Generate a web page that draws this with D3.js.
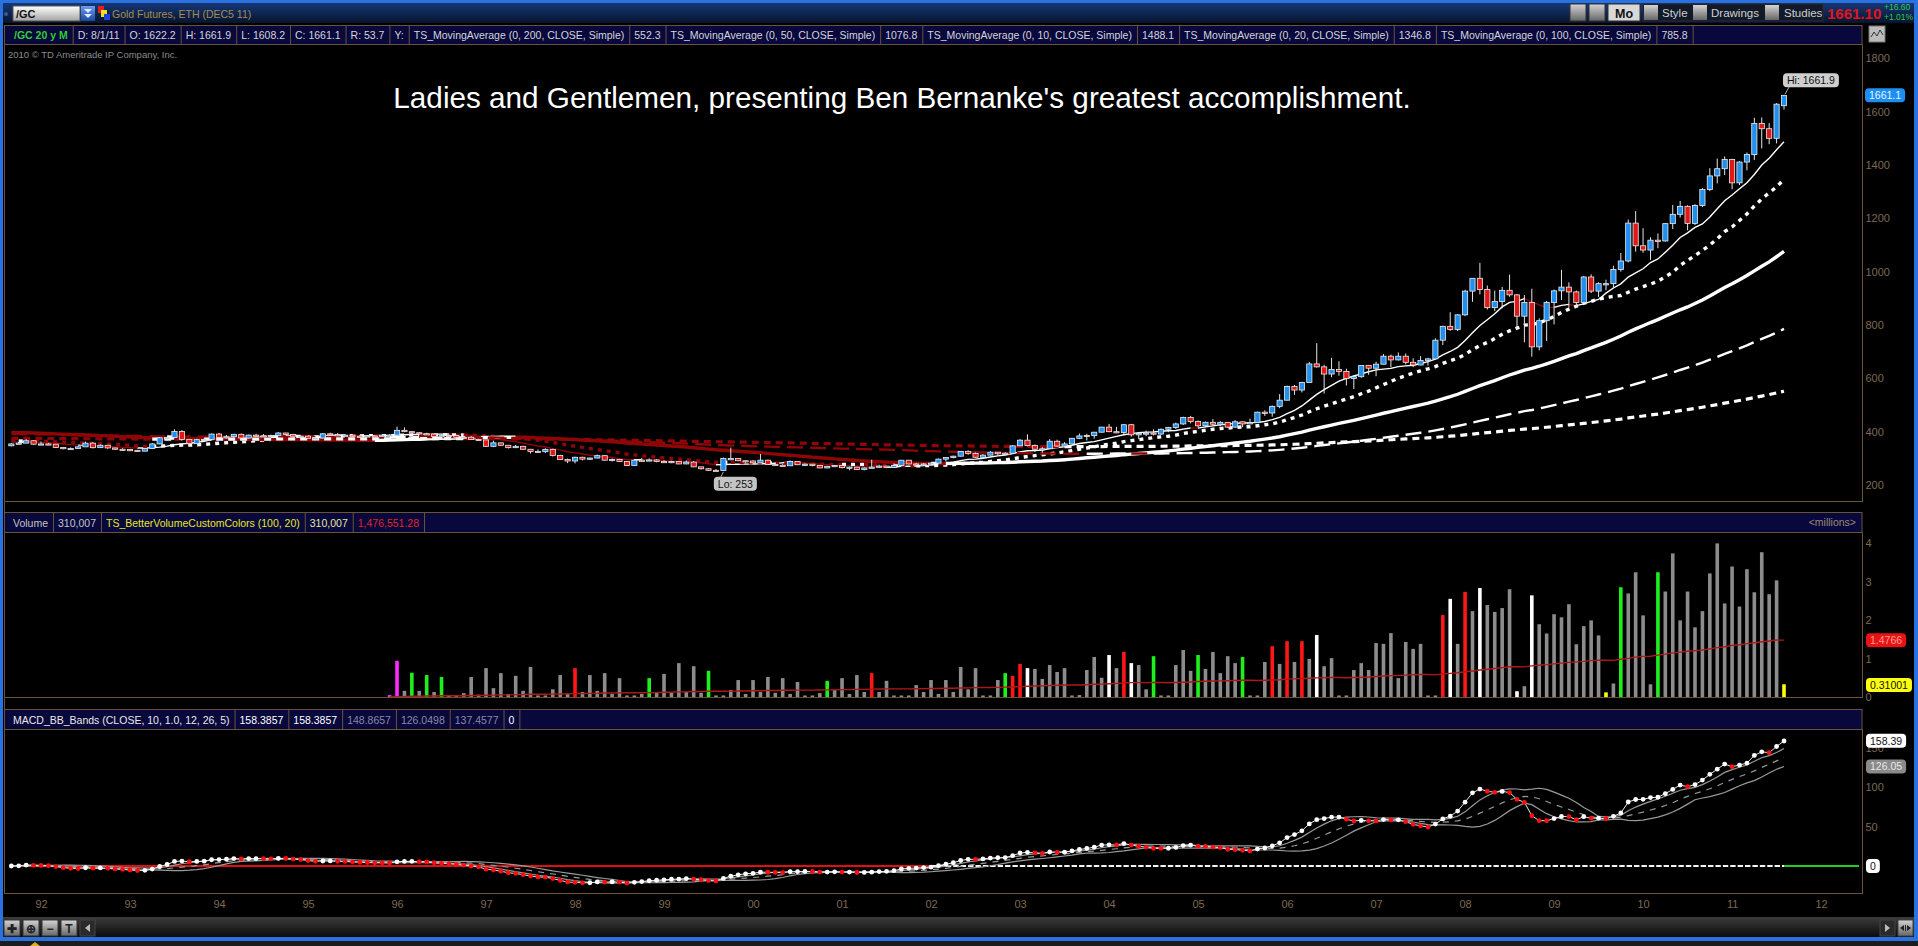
<!DOCTYPE html>
<html lang="en">
<head>
<meta charset="UTF-8">
<title>/GC 20 y M</title>
<script src="https://cdn.jsdelivr.net/npm/d3@7/dist/d3.min.js"></script>
<style>
  body { margin:0; padding:0; background:#000; overflow:hidden; }
  svg text { font-family: "Liberation Sans", Arial, sans-serif; }
</style>
</head>
<body>
<svg id="chart" width="1918" height="946"></svg>
<script>
// monthly gold bars, Sep 1991 .. Aug 2011 (index 4 = Jan 1992)
var opens = [347,354,357,366,
  353,354,353,341,336,337,343,357,340,349,339,334,
  333,330,327,337,354,377,378,401,371,355,370,371,
  391,378,381,390,376,387,385,384,386,395,389,383,
  383,375,376,392,389,385,387,383,382,384,383,387,
  387,405,400,396,392,391,382,385,386,379,379,371,
  369,345,358,349,340,345,334,326,325,333,311,296,
  290,304,297,301,310,293,296,288,273,293,292,294,
  288,287,288,279,286,268,261,255,254,299,299,291,
  290,283,293,277,274,272,288,276,278,273,264,270,
  273,265,267,258,264,267,271,266,273,293,279,275,
  279,282,297,303,308,326,318,304,312,323,317,319,
  347,368,348,334,336,364,346,354,375,384,386,398,
  417,400,397,426,388,393,395,391,409,416,429,453,
  438,422,435,428,435,417,437,429,434,473,470,495,
  518,569,556,584,654,643,616,633,626,599,606,648,
  638,653,683,669,683,660,650,667,673,743,795,783,
  838,927,975,933,865,888,930,913,833,884,718,816,
  884,928,942,924,884,980,927,955,955,1008,1040,1182,
  1097,1081,1118,1115,1180,1215,1245,1181,1248,1308,1359,1386,
  1421,1333,1411,1439,1556,1536,1500,1622.2];
var highs = [357,362,372,368,
  363,358,354,342,341,346,363,361,352,350,340,338,
  335,332,339,357,380,380,409,406,373,373,375,393,
  395,388,392,393,389,392,391,389,398,396,392,386,
  383,381,395,396,395,391,391,388,387,387,390,390,
  419,416,402,398,396,392,388,390,387,384,383,373,
  369,366,359,349,350,347,335,333,338,336,313,299,
  306,306,303,314,311,300,298,289,298,302,300,297,
  293,291,290,292,290,268,262,260,303,340,300,292,
  293,316,295,285,278,292,290,281,278,274,272,275,
  273,269,268,266,295,276,272,281,294,294,283,282,
  283,299,304,310,327,330,322,316,327,323,323,349,
  372,390,352,342,372,370,361,377,393,392,399,418,
  429,418,428,429,397,404,409,412,418,434,456,459,
  442,438,447,439,436,443,438,449,475,480,498,541,
  573,575,587,661,732,651,677,664,636,611,650,649,
  662,691,689,697,693,675,683,677,750,797,848,841,
  932,975,1033,948,929,943,989,916,912,936,825,890,
  933,1007,960,929,984,990,960,970,1022,1070,1195,1227,
  1163,1129,1143,1182,1250,1265,1249,1253,1313,1388,1424,1432,
  1423,1414,1447,1577,1578,1557,1632,1661.9];
var lows = [345,354,356,351,
  350,350,339,334,333,336,343,337,339,336,332,331,
  327,326,326,335,353,365,377,366,345,354,362,367,
  375,374,377,368,374,381,379,377,386,387,381,377,
  372,371,375,387,383,383,381,380,381,380,381,384,
  386,398,393,390,388,380,380,384,377,376,369,366,
  343,342,347,337,338,333,318,320,320,307,295,282,
  281,292,294,300,292,288,287,271,272,290,291,285,
  283,282,278,278,267,258,254,254,253,296,289,281,
  281,282,276,273,271,272,275,271,270,264,263,268,
  262,255,256,255,264,264,263,265,271,277,271,274,
  277,281,288,300,307,313,302,302,311,311,315,318,
  346,345,323,321,336,343,342,352,372,367,374,397,
  398,394,389,381,372,383,386,388,398,410,425,431,
  415,416,424,422,414,415,417,428,433,459,456,488,
  517,538,547,584,640,543,604,610,573,560,602,613,
  608,652,641,667,652,642,649,648,672,725,778,777,
  833,887,915,858,852,862,906,786,735,681,705,740,
  802,893,866,865,881,920,905,930,940,1000,1035,1075,
  1071,1044,1088,1113,1160,1203,1155,1175,1242,1302,1331,1362,
  1309,1325,1380,1419,1462,1478,1481,1608.2];
var closes = [354,357,366,353,
  354,353,341,336,337,343,357,340,349,339,334,333,
  330,327,337,354,377,378,401,371,355,370,371,391,
  378,381,390,376,387,385,384,386,395,389,383,383,
  375,376,392,389,385,387,383,382,384,383,387,387,
  405,400,396,392,391,382,385,386,379,379,371,369,
  345,358,349,340,345,334,326,325,333,311,296,290,
  304,297,301,310,293,296,288,273,293,292,294,288,
  287,288,279,286,268,261,255,254,299,299,291,290,
  283,293,277,274,272,288,276,278,273,264,270,273,
  265,267,258,264,267,271,266,273,293,279,275,279,
  282,297,303,308,326,318,304,312,323,317,319,347,
  368,348,334,336,364,346,354,375,384,386,398,417,
  400,397,426,388,393,395,391,409,416,429,453,438,
  422,435,428,435,417,437,429,434,473,470,495,518,
  569,556,584,654,643,616,633,626,599,606,648,638,
  653,683,669,683,660,650,667,673,743,795,783,838,
  927,975,933,865,888,930,913,833,884,718,816,884,
  928,942,924,884,980,927,955,955,1008,1040,1182,1097,
  1081,1118,1115,1180,1215,1245,1181,1248,1308,1359,1386,1421,
  1333,1411,1439,1556,1536,1500,1628,1661.1];

var yearLabels = ['92','93','94','95','96','97','98','99','00','01','02',
                  '03','04','05','06','07','08','09','10','11','12'];
var priceTicks = [200,400,600,800,1000,1200,1400,1600,1800];
var volTicks = [0,1,2,3,4];
var macdTicks = [50,100,150];

// volume in millions, first bar = Dec 1995 (bar index 51)
var volStart = 51;
var volumes = [0.05,
  0.94,0.16,0.63,0.16,0.57,0.13,0.52,0.04,0.04,0.10,
  0.52,0.06,0.75,0.23,0.62,0.08,0.55,0.16,0.78,0.04,
  0.04,0.20,0.57,0.08,0.75,0.13,0.57,0.16,0.62,0.08,
  0.49,0.04,0.04,0.08,0.49,0.13,0.60,0.11,0.88,0.13,
  0.80,0.11,0.68,0.04,0.04,0.18,0.44,0.08,0.44,0.13,
  0.52,0.11,0.49,0.08,0.39,0.04,0.04,0.10,0.42,0.18,
  0.49,0.08,0.57,0.13,0.62,0.13,0.42,0.04,0.04,0.04,
  0.31,0.13,0.44,0.08,0.44,0.13,0.78,0.20,0.75,0.04,
  0.04,0.44,0.62,0.55,0.86,0.75,0.73,0.47,0.83,0.65,
  0.75,0.04,0.05,0.70,1.04,0.50,1.09,0.75,1.17,0.88,
  0.83,0.20,1.06,0.04,0.04,0.83,1.22,0.68,1.09,0.73,
  1.17,0.62,1.06,0.88,1.04,0.04,0.04,0.91,1.32,0.86,
  1.45,0.91,1.45,0.99,1.61,0.80,1.01,0.04,0.04,0.70,
  0.88,0.70,1.40,1.38,1.66,0.49,1.43,1.25,1.38,0.04,
  0.04,2.13,2.55,1.38,2.73,2.23,2.83,2.39,2.21,2.31,
  2.80,0.15,0.28,2.64,1.89,1.65,2.15,2.07,2.41,1.37,
  1.84,1.99,1.60,0.12,0.35,2.85,2.69,3.24,2.12,0.33,
  3.24,2.74,3.73,1.99,2.74,1.81,2.23,3.21,3.99,2.43,
  3.39,2.35,3.32,2.72,3.76,2.67,3.03,0.33];
// g gray, G green, r red, w white, m magenta, y yellow
var volKinds = ('m' + 'mgGgGgGggg' + 'gggggggggg' + 'ggggrggggg' + 'ggggGggggg' +
  'ggGggggggg' + 'ggggggggGg' + 'ggggrggggg' + 'gggggggggg' + 'ggGrrwgggg' +
  'ggggggwgrw' + 'ggGgggggGg' + 'ggggGgggrg' + 'rgrgwggggg' + 'gggggggggg' +
  'grwgrgwggg' + 'gwgwgggggg' + 'gggygGgggg' + 'Gggggggggg' + 'gggggggy').split('');

var maPeriods = [10, 20, 50, 100, 200];
var maPrior = [362, 366, 398, 392, 375];   // average of the months before the chart window
var volAvgLen = 100;
var zeroRedEnd = 124;

var lastPrice = 1661.1, volAvgLast = 1.4766, volLast = 0.31001,
    macdLast = 158.39, macdLowLast = 126.05;

var priceCells = [['/GC 20 y M','#33cc33',1],['D: 8/1/11'],['O: 1622.2'],['H: 1661.9'],['L: 1608.2'],
  ['C: 1661.1'],['R: 53.7'],['Y:'],['TS_MovingAverage (0, 200, CLOSE, Simple)'],['552.3'],
  ['TS_MovingAverage (0, 50, CLOSE, Simple)'],['1076.8'],['TS_MovingAverage (0, 10, CLOSE, Simple)'],['1488.1'],
  ['TS_MovingAverage (0, 20, CLOSE, Simple)'],['1346.8'],['TS_MovingAverage (0, 100, CLOSE, Simple)'],['785.8']];
var volCells = [['Volume','#c4c4c4'],['310,007','#c4c4c4'],['TS_BetterVolumeCustomColors (100, 20)','#e6e626'],
  ['310,007','#e6e6a0'],['1,476,551.28','#e02424']];
var macdCells = [['MACD_BB_Bands (CLOSE, 10, 1.0, 12, 26, 5)','#e8e8e8'],['158.3857','#ffffff'],['158.3857','#ffffff'],
  ['148.8657','#8a8aa4'],['126.0498','#8a8aa4'],['137.4577','#8a8aa4'],['0','#ffffff']];

var svg = d3.select('#chart');
var defs = svg.append('defs');
function grad(id, c1, c2) {
  var g = defs.append('linearGradient').attr('id', id).attr('x1',0).attr('y1',0).attr('x2',0).attr('y2',1);
  g.append('stop').attr('offset','0').attr('stop-color',c1);
  g.append('stop').attr('offset','1').attr('stop-color',c2);
}
grad('tb','#183d82','#07142e');
grad('box','#ffffff','#a4a4a4');
grad('dd','#6c9cea','#1a46a0');
grad('btn','#d4d4d4','#666666');
grad('sb','#3c3c3c','#0a0a0a');
function clip(id,x,y,w,h){ defs.append('clipPath').attr('id',id).append('rect').attr('x',x).attr('y',y).attr('width',w).attr('height',h); }
clip('cP',5,44,1857,457);
clip('cV',5,532,1857,165);
clip('cM',5,729,1857,164);

var x = d3.scaleLinear().domain([4, 239]).range([41, 1784]);
var yP = d3.scaleLinear().domain([200, 1800]).range([485, 58.3]);
var yV = d3.scaleLinear().domain([0, 4]).range([697, 543]);
var yM = d3.scaleLinear().domain([0, 100]).range([866, 787]);

var FRAME = '#6a5438', AXIS = '#7d6a52';

svg.append('rect').attr('width',1918).attr('height',946).attr('fill','#000');

// ---- top toolbar
svg.append('rect').attr('width',1918).attr('height',23).attr('fill','url(#tb)');
svg.append('rect').attr('width',1918).attr('height',3).attr('fill','#2a72e0');
svg.append('circle').attr('cx',6).attr('cy',14).attr('r',2).attr('fill','#3a5a90');
svg.append('rect').attr('x',13).attr('y',6).attr('width',67).attr('height',15).attr('fill','url(#box)').attr('stroke','#555');
svg.append('text').attr('x',16).attr('y',17.5).attr('font-size',11).attr('font-weight','bold').attr('fill','#111').text('/GC');
svg.append('rect').attr('x',81).attr('y',6).attr('width',14).attr('height',15).attr('fill','url(#dd)');
svg.append('path').attr('d','M84,9h8l-4,4z M84,14h8l-4,4z').attr('fill','#dfe8ff');
svg.append('rect').attr('x',98).attr('y',6).attr('width',6).attr('height',7).attr('fill','#e02020');
svg.append('rect').attr('x',101).attr('y',10).attr('width',6).attr('height',7).attr('fill','#f0e020');
svg.append('rect').attr('x',104).attr('y',14).attr('width',6).attr('height',6).attr('fill','#2040e0');
svg.append('text').attr('x',112).attr('y',18).attr('font-size',10.5).attr('fill','#a48c50').text('Gold Futures, ETH (DEC5 11)');

[1570,1589].forEach(function(bx){
  svg.append('rect').attr('x',bx).attr('y',4).attr('width',16).attr('height',17).attr('fill','url(#btn)').attr('stroke','#333');
});
svg.append('rect').attr('x',1608).attr('y',4).attr('width',32).attr('height',17).attr('fill','#d8d8d8').attr('stroke','#333');
svg.append('text').attr('x',1624).attr('y',17.5).attr('text-anchor','middle').attr('font-size',12.5).attr('font-weight','bold').attr('fill','#111').text('Mo');
svg.append('rect').attr('x',1643).attr('y',4).attr('width',180).attr('height',17).attr('fill','#121a2a').attr('stroke','#2a2a3a');
[[1644,1662,'Style'],[1693,1711,'Drawings'],[1765,1784,'Studies']].forEach(function(b){
  svg.append('rect').attr('x',b[0]).attr('y',5).attr('width',14).attr('height',15).attr('fill','url(#btn)');
  svg.append('text').attr('x',b[1]).attr('y',17).attr('font-size',11.5).attr('fill','#cfcfcf').text(b[2]);
});
svg.append('text').attr('x',1827).attr('y',18.5).attr('font-size',15).attr('font-weight','bold').attr('fill','#e0141c').text('1661.10');
svg.append('text').attr('x',1884).attr('y',10).attr('font-size',8.5).attr('fill','#2ecc40').text('+16.60');
svg.append('text').attr('x',1884).attr('y',19.5).attr('font-size',8.5).attr('fill','#2ecc40').text('+1.01%');

// ---- header strips
function strip(y0, h, cells, startX) {
  var g = svg.append('g');
  g.append('rect').attr('x',4.5).attr('y',y0+0.5).attr('width',1857.5).attr('height',h).attr('fill','#08083c').attr('stroke',FRAME);
  var cx = startX;
  cells.forEach(function(c){
    var t = g.append('text').attr('x',cx+5).attr('y',y0+h/2+4.5).attr('font-size',10.5)
      .attr('fill',c[1] || '#d4d4d4').text(c[0]);
    if (c[2]) t.attr('font-weight','bold');
    cx += t.node().getComputedTextLength() + 10;
    g.append('line').attr('x1',cx+0.5).attr('x2',cx+0.5).attr('y1',y0+0.5).attr('y2',y0+h+0.5).attr('stroke',FRAME);
  });
  return g;
}
strip(25, 19, priceCells, 9);
strip(512, 20, volCells, 8)
  .append('text').attr('x',1856).attr('y',526).attr('text-anchor','end').attr('font-size',10.5).attr('fill','#9a8a78').text('<millions>');
strip(709, 20, macdCells, 8);
svg.append('rect').attr('x',1869).attr('y',26).attr('width',16).attr('height',16).attr('fill','#bcbcbc').attr('stroke','#777');
svg.append('polyline').attr('points','1871,37 1874,32 1877,36 1880,30 1883,35').attr('fill','none').attr('stroke','#333');

// ---- frames
[[44,501],[532,697],[729,893]].forEach(function(p){
  svg.append('line').attr('x1',1862.5).attr('x2',1862.5).attr('y1',p[0]).attr('y2',p[1]).attr('stroke',FRAME);
  svg.append('line').attr('x1',4).attr('x2',1863).attr('y1',p[1]+0.5).attr('y2',p[1]+0.5).attr('stroke',FRAME);
});
svg.append('line').attr('x1',4.5).attr('x2',4.5).attr('y1',25).attr('y2',894).attr('stroke',FRAME);

svg.append('text').attr('x',8).attr('y',57.5).attr('font-size',9.5).attr('fill','#8c8c8c').text('2010 \u00a9 TD Ameritrade IP Company, Inc.');

// title
var title = svg.append('text').attr('x',902).attr('y',108).attr('text-anchor','middle').attr('font-size',28).attr('fill','#fff')
  .text("Ladies and Gentlemen, presenting Ben Bernanke's greatest accomplishment.");
title.attr('font-size', 28 * 1018 / title.node().getComputedTextLength());

// ---- price pane
var pane = svg.append('g').attr('clip-path','url(#cP)');
var line = d3.line().x(function(d){ return x(d[0]); }).y(function(d){ return yP(d[1]); });
var maStyle = [{w:1.4,dash:null},{w:3.4,dash:'4,5'},{w:3.4,dash:null},{w:2.4,dash:'16,7'},{w:3.2,dash:'7,5'}];
maPeriods.forEach(function(n, m){
  var ma = closes.map(function(c, i){
    var s = 0;
    for (var k = i - n + 1; k <= i; k++) s += k >= 0 ? closes[k] : maPrior[m];
    return s / n;
  });
  var runs = [], cur = null;
  for (var i = 1; i < ma.length; i++) {
    var col = ma[i] >= ma[i-1] ? '#ffffff' : '#8e0606';
    if (!cur || cur.col !== col) { cur = {col: col, pts: [[i-1, ma[i-1]]]}; runs.push(cur); }
    cur.pts.push([i, ma[i]]);
  }
  runs.forEach(function(r){
    pane.append('path').attr('d', line(r.pts)).attr('fill','none').attr('stroke', r.col)
      .attr('stroke-width', maStyle[m].w).attr('stroke-dasharray', maStyle[m].dash);
  });
});

var bars = d3.range(closes.length);
var cg = pane.selectAll('g.c').data(bars).enter().append('g');
cg.append('line')
  .attr('x1', function(i){ return x(i); }).attr('x2', function(i){ return x(i); })
  .attr('y1', function(i){ return yP(highs[i]); }).attr('y2', function(i){ return yP(lows[i]); })
  .attr('stroke','#e4e4e4').attr('stroke-width',1);
cg.append('rect')
  .attr('x', function(i){ return x(i) - 2.6; }).attr('width', 5.2)
  .attr('y', function(i){ return yP(Math.max(opens[i], closes[i])); })
  .attr('height', function(i){ return Math.max(1.2, Math.abs(yP(opens[i]) - yP(closes[i]))); })
  .attr('fill', function(i){ return closes[i] >= opens[i] ? '#1f8ff0' : '#e01818'; })
  .attr('stroke','#ececec').attr('stroke-width',0.8);

function bubble(bx, yc, txt, bg, fg, anchorStart) {
  var g = svg.append('g');
  var r = g.append('rect').attr('y', yc - 7).attr('height', 14).attr('rx', 4).attr('fill', bg);
  var t = g.append('text').attr('y', yc + 4).attr('font-size', 10.5).attr('fill', fg).text(txt);
  var w = t.node().getComputedTextLength() + 8;
  var left = anchorStart ? bx : bx - w / 2;
  r.attr('x', left).attr('width', w);
  t.attr('x', left + 4);
  return g;
}
var hiIdx = d3.maxIndex(highs), loIdx = d3.minIndex(lows);
svg.append('line').attr('x1', x(hiIdx) + 1).attr('y1', yP(highs[hiIdx]) - 1).attr('x2', x(hiIdx) + 5).attr('y2', yP(highs[hiIdx]) - 8).attr('stroke','#aaa');
bubble(x(hiIdx) - 1, yP(highs[hiIdx]) - 15, 'Hi: ' + highs[hiIdx], '#cfcfcf', '#111', true);
svg.append('line').attr('x1', x(loIdx)).attr('y1', yP(lows[loIdx]) + 1).attr('x2', x(loIdx) - 3).attr('y2', yP(lows[loIdx]) + 7).attr('stroke','#aaa');
bubble(x(loIdx) + 12, yP(lows[loIdx]) + 13, 'Lo: ' + lows[loIdx], '#c4c4c4', '#111', false);

// ---- axes
function rightAxis(scale, ticks) {
  var g = svg.append('g').attr('transform','translate(1862,0)')
    .call(d3.axisRight(scale).tickValues(ticks).tickSize(0).tickPadding(3.5).tickFormat(d3.format('d')));
  g.select('.domain').remove();
  g.attr('font-size', 11).attr('font-family','"Liberation Sans", Arial, sans-serif');
  g.selectAll('text').attr('fill', AXIS);
  return g;
}
rightAxis(yP, priceTicks);
rightAxis(yV, volTicks);
rightAxis(yM, macdTicks);
var xa = svg.append('g').attr('transform','translate(0,893)')
  .call(d3.axisBottom(x).tickValues(yearLabels.map(function(_, k){ return 4 + 12 * k; }))
    .tickFormat(function(d, k){ return yearLabels[k]; }).tickSize(0).tickPadding(7));
xa.select('.domain').remove();
xa.attr('font-size', 11).attr('font-family','"Liberation Sans", Arial, sans-serif');
xa.selectAll('text').attr('fill', AXIS);

bubble(1865, yP(lastPrice), String(lastPrice), '#1e8ff2', '#e8f4ff', true);

// ---- volume pane
var vp = svg.append('g').attr('clip-path','url(#cV)');
var volColor = {g:'#8c8c8c', G:'#1ef01e', r:'#ff1616', w:'#ffffff', m:'#ff2aff', y:'#ffff10'};
vp.selectAll('rect.v').data(volumes).enter().append('rect')
  .attr('x', function(d, j){ return x(volStart + j) - 1.8; }).attr('width', 3.6)
  .attr('y', function(d){ return yV(d); })
  .attr('height', function(d){ return yV(0) - yV(d); })
  .attr('fill', function(d, j){ return volColor[volKinds[j]]; });
var volAvg = volumes.map(function(d, j){
  var s = 0;
  for (var k = j - volAvgLen + 1; k <= j; k++) if (k >= 0) s += volumes[k];
  return [volStart + j, s / volAvgLen];
});
vp.append('path').attr('d', d3.line().x(function(d){ return x(d[0]); }).y(function(d){ return yV(d[1]); })(volAvg))
  .attr('fill','none').attr('stroke','#b01818').attr('stroke-width',1.4);
bubble(1866, yV(volAvgLast), String(volAvgLast), '#e81414', '#ff9a9a', true);
bubble(1866, yV(volLast), String(volLast), '#ffff10', '#111', true);

// ---- MACD pane
function ema(arr, n) {
  var k = 2 / (n + 1), out = [], e = arr[0];
  arr.forEach(function(v, i){ e = i ? v * k + e * (1 - k) : v; out.push(e); });
  return out;
}
var e12 = ema(closes, 12), e26 = ema(closes, 26);
var macd = closes.map(function(_, i){ return e12[i] - e26[i]; });
var bbLen = 10, mid = [], up = [], lo = [];
macd.forEach(function(v, i){
  var w = macd.slice(Math.max(0, i - bbLen + 1), i + 1);
  var m = d3.mean(w), sd = Math.sqrt(d3.mean(w, function(d){ return (d - m) * (d - m); }));
  mid.push(m); up.push(m + sd); lo.push(m - sd);
});
var mp = svg.append('g').attr('clip-path','url(#cM)');
var ml = d3.line().x(function(d, i){ return x(i); }).y(function(d){ return yM(d); });
mp.append('line').attr('x1', x(0)).attr('x2', x(zeroRedEnd)).attr('y1', yM(0)).attr('y2', yM(0)).attr('stroke','#e01010').attr('stroke-width',2.2);
mp.append('line').attr('x1', x(zeroRedEnd)).attr('x2', x(closes.length - 1)).attr('y1', yM(0)).attr('y2', yM(0))
  .attr('stroke','#f4f4f4').attr('stroke-width',2.2).attr('stroke-dasharray','5.4,2');
mp.append('line').attr('x1', x(closes.length - 1)).attr('x2', 1859).attr('y1', yM(0)).attr('y2', yM(0)).attr('stroke','#1ed01e').attr('stroke-width',2.2);
[up, lo].forEach(function(b){
  mp.append('path').attr('d', ml(b)).attr('fill','none').attr('stroke','#9a9a9a').attr('stroke-width',1.2);
});
mp.append('path').attr('d', ml(mid)).attr('fill','none').attr('stroke','#9a9a9a').attr('stroke-width',1.2).attr('stroke-dasharray','6,6');
mp.append('path').attr('d', ml(macd)).attr('fill','none').attr('stroke','#e8e8e8').attr('stroke-width',1);
mp.selectAll('circle').data(macd).enter().append('circle')
  .attr('cx', function(d, i){ return x(i); }).attr('cy', function(d){ return yM(d); }).attr('r', 2.4)
  .attr('fill', function(d, i){ return i > 0 && d < macd[i-1] ? '#ff1010' : '#ffffff'; });
bubble(1866, yM(macdLast), String(macdLast), '#ffffff', '#111', true);
bubble(1866, yM(macdLowLast), String(macdLowLast), '#8a8a8a', '#e8e8e8', true);
bubble(1866, yM(0), '0', '#ffffff', '#111', true);

// ---- bottom bar and window border
svg.append('rect').attr('x',3).attr('y',917).attr('width',1911).attr('height',20).attr('fill','url(#sb)');
[[4,'\u271a'],[23,'\u2295'],[42,'\u2212'],[61,'T']].forEach(function(b){
  svg.append('rect').attr('x',b[0]).attr('y',920).attr('width',16).attr('height',16).attr('fill','url(#btn)').attr('stroke','#333');
  svg.append('text').attr('x',b[0]+8).attr('y',933).attr('text-anchor','middle').attr('font-size',12).attr('font-weight','bold').attr('fill','#222').text(b[1]);
});
svg.append('rect').attr('x',80).attr('y',920).attr('width',15).attr('height',16).attr('fill','#2a2a2a').attr('stroke','#444');
svg.append('path').attr('d','M90,924 l-5,4 l5,4z').attr('fill','#bbb');
svg.append('rect').attr('x',1880).attr('y',920).attr('width',15).attr('height',16).attr('fill','#2a2a2a').attr('stroke','#444');
svg.append('path').attr('d','M1885,924 l5,4 l-5,4z').attr('fill','#bbb');
svg.append('rect').attr('x',1898).attr('y',920).attr('width',15).attr('height',16).attr('fill','url(#btn)').attr('stroke','#444');
svg.append('path').attr('d','M1900,928 l4,-3 v6z M1911,928 l-4,-3 v6z M1905,925 h1v6h-1z').attr('fill','#222');
svg.append('rect').attr('y',937).attr('width',1918).attr('height',4).attr('fill','#2a72e0');
svg.append('rect').attr('y',941).attr('width',1918).attr('height',5).attr('fill','#1c1c1c');
svg.append('path').attr('d','M30,946 l5,-4 l5,4z').attr('fill','#e0b020');
svg.append('rect').attr('x',0).attr('y',0).attr('width',3).attr('height',941).attr('fill','#2a72e0');
svg.append('rect').attr('x',1914).attr('y',0).attr('width',4).attr('height',941).attr('fill','#2a72e0');
</script>
</body>
</html>
